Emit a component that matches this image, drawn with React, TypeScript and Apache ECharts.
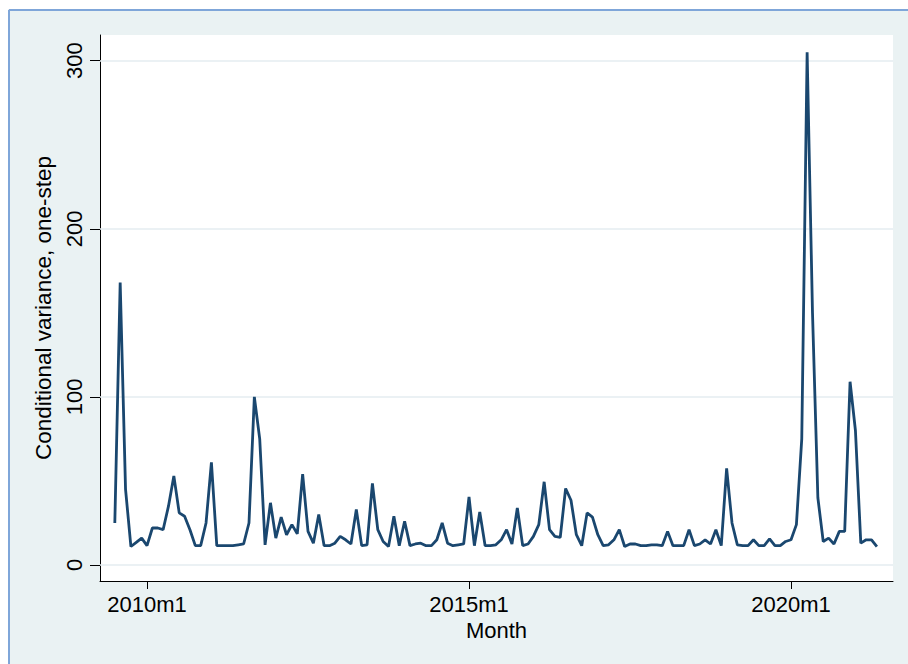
import React, { useEffect, useRef } from "react";
import * as echarts from "echarts";

// Monthly series starting 2009m7 (index 0) through 2021m5
const startYear = 2009;
const startMonth = 7;
const condVariance = [
  25, 168, 45, 11, 13.5, 16,
  11.5, 22, 22, 21, 35, 53, 31, 29, 21, 11.5, 11.5, 25,
  61, 11.5, 11.5, 11.5, 11.5, 12, 12.5, 25, 100, 75, 12, 37,
  16, 28.5, 18, 24, 18.5, 54, 20, 13, 30, 11.5, 11.5, 13,
  17, 15, 12.5, 33, 11.5, 12, 48.5, 21, 14, 11, 29, 11.5,
  26, 11.5, 12.5, 13, 11.5, 11.5, 15, 25, 13, 11.5, 12, 12.5,
  40.5, 11.5, 31.5, 11.5, 11.5, 12, 15, 21, 12.5, 34, 11.5, 12.5,
  17, 24, 49.5, 21, 17, 16.5, 45.5, 38.5, 18, 11.5, 31, 28.5,
  18, 11.5, 12, 15, 21, 11, 12.5, 12.5, 11.5, 11.5, 12, 12,
  11.5, 20, 11.5, 11.5, 11.5, 21, 11.5, 12.5, 15, 12.5, 21, 11.5,
  57.5, 25, 12, 11.5, 11.5, 15, 11.5, 11.5, 15.5, 11.5, 11.5, 14,
  15, 24, 75, 305, 150, 40, 14, 16, 12.5, 20, 20, 109,
  80, 13, 15, 15, 11,
];
const xTickIndices = [6, 66, 126];
const yTicks = [0, 100, 200, 300];
const yTitle = "Conditional variance, one-step";
const xTitle = "Month";

function monthLabel(i: number): string {
  const total = startYear * 12 + (startMonth - 1) + Math.round(i);
  const y = Math.floor(total / 12);
  const m = (total % 12) + 1;
  return `${y}m${m}`;
}

export default function App() {
  const ref = useRef<HTMLDivElement>(null);
  useEffect(() => {
    if (!ref.current) return;
    const chart = echarts.init(ref.current, null, { renderer: "svg" });
    const data = condVariance.map((v, i) => [i, v]);
    const font = "'Liberation Sans', Arial, sans-serif";
    chart.setOption({
      animation: false,
      backgroundColor: "#EAF2F3",
      textStyle: { fontFamily: font },
      graphic: [
        { type: "rect", silent: true, shape: { x: 0, y: 0, width: 908, height: 9 }, style: { fill: "#ffffff" } },
        { type: "rect", silent: true, shape: { x: 0, y: 0, width: 8, height: 664 }, style: { fill: "#ffffff" } },
        { type: "line", silent: true, shape: { x1: 9, y1: 10, x2: 908, y2: 10 }, style: { stroke: "#7FA6D9", lineWidth: 2 } },
        { type: "line", silent: true, shape: { x1: 9, y1: 10, x2: 9, y2: 664 }, style: { stroke: "#7FA6D9", lineWidth: 2 } },
      ],
      grid: {
        left: 100, top: 35, right: 15, bottom: 83,
        show: true, backgroundColor: "#ffffff", borderWidth: 0,
      },
      xAxis: {
        type: "value",
        min: -2.76,
        max: 145,
        name: xTitle,
        nameLocation: "middle",
        nameGap: 38,
        nameTextStyle: { fontSize: 22, color: "#000", fontFamily: font },
        axisLine: { show: true, onZero: false, lineStyle: { color: "#000", width: 1 } },
        axisTick: { show: true, length: 8, customValues: xTickIndices, lineStyle: { color: "#000", width: 1 } },
        axisLabel: {
          customValues: xTickIndices,
          formatter: (v: number) => monthLabel(v),
          fontSize: 22, color: "#000", margin: 12, fontFamily: font,
        },
        splitLine: { show: false },
      },
      yAxis: {
        type: "value",
        min: -9.52,
        max: 315.3,
        name: yTitle,
        nameLocation: "middle",
        nameRotate: 90,
        nameGap: 45,
        nameTextStyle: { fontSize: 22.5, color: "#000", fontFamily: font },
        axisLine: { show: true, onZero: false, lineStyle: { color: "#000", width: 1 } },
        axisTick: { show: true, length: 10, customValues: yTicks, lineStyle: { color: "#000", width: 1 } },
        axisLabel: {
          customValues: yTicks,
          rotate: 90,
          fontSize: 22, color: "#000", margin: 15, fontFamily: font,
        },
        splitLine: { show: false },
      },
      series: [
        {
          type: "line",
          data,
          symbol: "none",
          showSymbol: false,
          lineStyle: { color: "#1A476F", width: 2.8 },
          z: 3,
          markLine: {
            silent: true,
            symbol: "none",
            z: 1,
            label: { show: false },
            lineStyle: { color: "#E4EDF0", width: 1.5, type: "solid" },
            data: yTicks.map((v) => ({ yAxis: v })),
          },
        },
      ],
    });
    return () => chart.dispose();
  }, []);
  return (
    <div
      ref={ref}
      style={{ position: "absolute", left: 0, top: 0, width: 908, height: 664 }}
    />
  );
}
